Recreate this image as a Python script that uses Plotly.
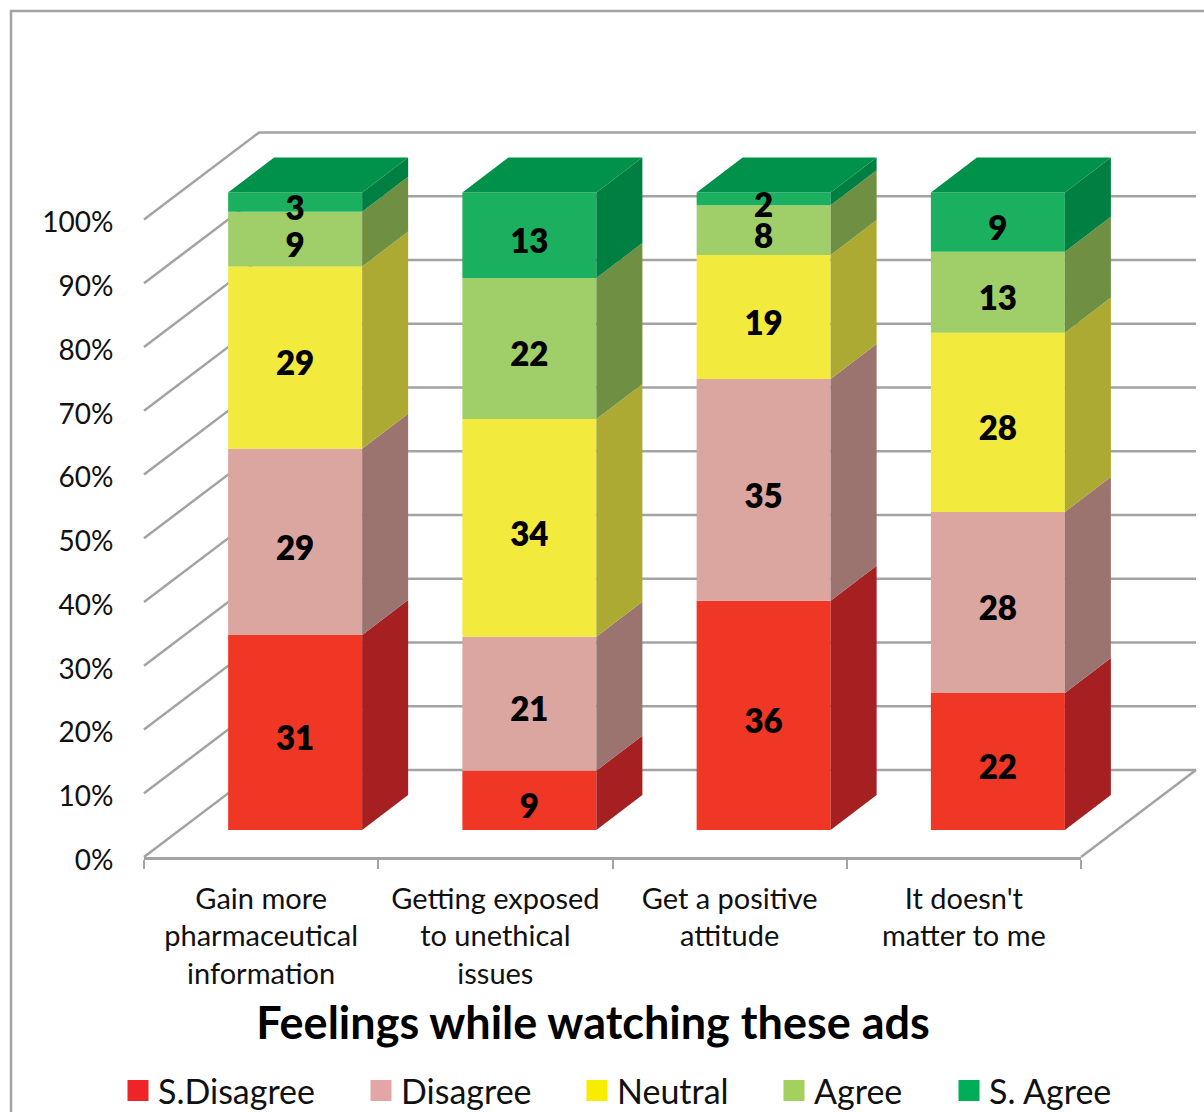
import plotly.graph_objects as go

W, H = 1204, 1112
FONT = "Lato"
GREY = "#A3A3A3"

categories = ["Gain more<br>pharmaceutical<br>information",
              "Getting exposed<br>to unethical<br>issues",
              "Get a positive<br>attitude",
              "It doesn't<br>matter to me"]
series_names = ["S.Disagree", "Disagree", "Neutral", "Agree", "S. Agree"]
# percent shares; data labels show them rounded
s_disagree = [30.6, 9.3, 35.9, 21.5]
disagree = [29.2, 21.0, 34.7, 28.4]
neutral = [28.6, 34.1, 19.4, 28.1]
agree = [8.6, 22.1, 7.8, 12.7]
s_agree = [3.0, 13.4, 2.0, 9.3]
series_values = [s_disagree, disagree, neutral, agree, s_agree]
percent_ticks = [0, 10, 20, 30, 40, 50, 60, 70, 80, 90, 100]

front_colors = ["#F03625", "#DBA5A0", "#F2EA3D", "#A0CE69", "#1BB060"]
side_colors = ["#A62022", "#9B736F", "#ADAA34", "#6F9042", "#007F42"]
top_color = "#00914B"
legend_colors = ["#EE2427", "#E3A6A5", "#F8EC00", "#A4D05E", "#00AE5A"]
legend_text_starts = [158, 401, 617, 814, 989]

# 3D projection constants, in axis units
PX_X = 234.25          # pixels per category
PX_Y = 6.375           # pixels per percent
WALL_DX, WALL_DY = 115 / PX_X, 87 / PX_Y
BAR_DX, BAR_DY = 46 / PX_X, 35 / PX_Y
BAR_SHIFT_X, BAR_SHIFT_Y = 34 / PX_X, 27 / PX_Y
BAR_W = 134 / PX_X
LABEL_DROP = 9.5 / PX_Y
X0, X1 = -0.5, 3.5

totals = [sum(col) for col in zip(*series_values)]
fig = go.Figure()

# ---- walls and floor: lowest subplot
wx, wy = [], []
for t in percent_ticks:
    wx += [X0, X0 + WALL_DX, X1 + WALL_DX, None]
    wy += [t, t + WALL_DY, t + WALL_DY, None]
wx += [X1, X1 + WALL_DX, None]
wy += [0, WALL_DY, None]
fig.add_trace(go.Scatter(x=wx, y=wy, mode="lines", line=dict(color=GREY, width=2.5),
                         hoverinfo="skip", showlegend=False, xaxis="x", yaxis="y"))

# ---- legend entries on the subplot holding the visible axes
for k, (name, col) in enumerate(zip(series_names, legend_colors)):
    fig.add_trace(go.Scatter(x=[None], y=[None], mode="markers", name=name,
                             marker=dict(symbol="square", size=16, color=col,
                                         line=dict(color=col, width=5)),
                             xaxis="x2", yaxis="y2", showlegend=True,
                             legend="legend" if k == 0 else f"legend{k + 1}"))

# ---- bars: top subplot, same scale as the walls
xs = [i + BAR_SHIFT_X for i in range(len(categories))]
cum = [BAR_SHIFT_Y] * len(categories)
lx, ly, lt = [], [], []
for k, vals in enumerate(series_values):
    h = [v / tot * 100 for v, tot in zip(vals, totals)]
    fig.add_trace(go.Bar(x=xs, y=h, base=list(cum), width=BAR_W, name=series_names[k],
                         marker=dict(color=front_colors[k], line=dict(width=0)),
                         hoverinfo="skip", showlegend=False, xaxis="x3", yaxis="y3"))
    px, py = [], []
    for x, b, d, v in zip(xs, cum, h, vals):
        r = x + BAR_W / 2
        px += [r, r + BAR_DX, r + BAR_DX, r, r, None]
        py += [b, b + BAR_DY, b + d + BAR_DY, b + d, b, None]
        lx.append(x)
        ly.append(b + d / 2 - LABEL_DROP)
        lt.append(str(round(v)))
    fig.add_trace(go.Scatter(x=px, y=py, mode="lines", fill="toself", fillcolor=side_colors[k],
                             line=dict(width=0), hoverinfo="skip", showlegend=False,
                             xaxis="x3", yaxis="y3"))
    cum = [c + d for c, d in zip(cum, h)]

tx, ty = [], []
for x, c in zip(xs, cum):
    l, r = x - BAR_W / 2, x + BAR_W / 2
    tx += [l, l + BAR_DX, r + BAR_DX, r, l, None]
    ty += [c, c + BAR_DY, c + BAR_DY, c, c, None]
fig.add_trace(go.Scatter(x=tx, y=ty, mode="lines", fill="toself", fillcolor=top_color,
                         line=dict(width=0), hoverinfo="skip", showlegend=False,
                         xaxis="x3", yaxis="y3"))

# ---- data labels, above every face
fig.add_trace(go.Scatter(x=lx, y=ly, text=lt, mode="text", textposition="middle center",
                         textfont=dict(family=FONT, size=33, color="black", weight=800),
                         hoverinfo="skip", showlegend=False, xaxis="x3", yaxis="y3"))

L, T, B = 100, 100, 880
hidden_x = dict(domain=[L / W, 1], range=[(L - 144) / PX_X + X0, (W - 144) / PX_X + X0], visible=False)
hidden_y = dict(domain=[1 - B / H, 1 - T / H], range=[(857 - B) / PX_Y, (857 - T) / PX_Y], visible=False)

legends = {}
for k, start in enumerate(legend_text_starts):
    key = "legend" if k == 0 else f"legend{k + 1}"
    legends[key] = dict(orientation="h", x=(start - 40) / W, xanchor="left", xref="container",
                        y=1 - 1091 / H, yanchor="middle", yref="container",
                        font=dict(family=FONT, size=34, color="#111111"), bgcolor="rgba(0,0,0,0)",
                        itemclick=False, itemdoubleclick=False)

fig.update_layout(
    width=W, height=H, margin=dict(l=0, r=0, t=0, b=0, autoexpand=False),
    paper_bgcolor="white", plot_bgcolor="rgba(0,0,0,0)",
    barmode="overlay", font=dict(family=FONT, color="#111111"),
    title=dict(text="Feelings while watching these ads", x=593 / W, xanchor="center",
               y=1 - 1023 / H, yanchor="middle", xref="container", yref="container",
               font=dict(family=FONT, size=45, color="black", weight=700)),
    xaxis=dict(anchor="y", **hidden_x),
    yaxis=dict(anchor="x", **hidden_y),
    xaxis3=dict(anchor="y3", **hidden_x),
    yaxis3=dict(anchor="x3", **hidden_y),
    xaxis2=dict(domain=[144 / W, 1081 / W], range=[X0, X1], anchor="y2",
                tickmode="array", tickvals=list(range(len(categories))), ticktext=categories,
                tickfont=dict(family=FONT, size=29, color="#111111"),
                ticks="outside", ticklen=14, tickcolor="rgba(0,0,0,0)",
                showline=True, linecolor=GREY, linewidth=2.5, showgrid=False, zeroline=False,
                minor=dict(ticks="outside", ticklen=9, tickwidth=2, tickcolor=GREY,
                           tick0=0.5, dtick=1, showgrid=False)),
    yaxis2=dict(domain=[1 - 857 / H, 1 - 219.5 / H], range=[0, 100], anchor="x2",
                tickmode="array", tickvals=percent_ticks, ticktext=[f"{t}%" for t in percent_ticks],
                tickfont=dict(family=FONT, size=28, color="#111111"),
                ticks="outside", ticklen=24, tickcolor="rgba(0,0,0,0)",
                ticklabelshift=3,
                showline=False, showgrid=False, zeroline=False),
    shapes=[dict(type="rect", xref="paper", yref="paper", x0=11 / W, x1=1.2, y0=-0.2, y1=1 - 11 / H,
                 line=dict(color=GREY, width=2.5), fillcolor="rgba(0,0,0,0)", layer="below")],
    **legends,
)

fig.write_html("out.html", config={"displayModeBar": False},
               post_script="document.body.style.margin='0';document.body.style.overflow='hidden';")
